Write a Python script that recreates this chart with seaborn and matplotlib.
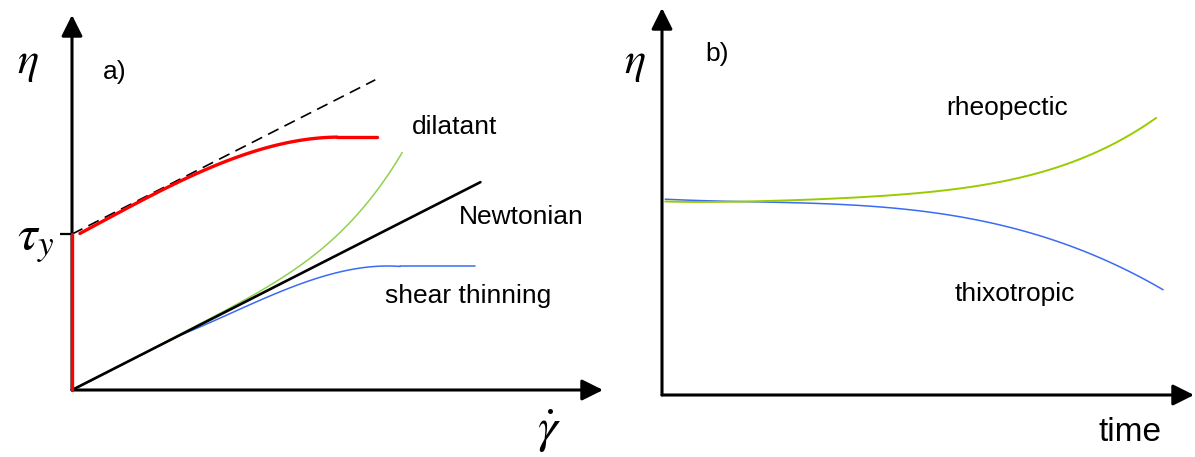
import matplotlib
matplotlib.use("Agg")
import matplotlib.pyplot as plt
import seaborn as sns
import pandas as pd
from matplotlib.patches import ArrowStyle

# ---------------- data: (a) viscosity vs shear rate ----------------
tau_y = 2.91

# Bingham-type branch above the yield stress, then its flat plateau
bingham_x = [0.15, 0.59, 1.23, 1.86, 2.48, 3.13, 3.75, 4.38, 5.02]
bingham_y = [2.91, 3.18, 3.48, 3.80, 4.10, 4.35, 4.54, 4.67, 4.72]
bingham_flat_x = [5.02, 5.78]
bingham_flat_y = [4.72, 4.72]

asymptote_x = [0, 5.74]
asymptote_y = [2.91, 5.79]

newtonian_x = [0, 7.73]
newtonian_y = [0, 3.88]

dilatant_x = [0, 1.04, 2.08, 2.61, 3.37, 3.79, 4.51, 4.94, 5.27, 5.59, 5.89, 6.25]
dilatant_y = [0, 0.52, 1.05, 1.34, 1.72, 2.00, 2.48, 2.80, 3.12, 3.49, 3.92, 4.42]

# shear thinning: linear start, bending section, plateau
thinning_lin_x = [0, 2.08]
thinning_lin_y = [0, 1.04]
thinning_x = [2.08, 2.75, 3.37, 3.79, 4.32, 4.94, 5.27, 5.89, 6.21]
thinning_y = [1.04, 1.31, 1.61, 1.75, 2.00, 2.17, 2.24, 2.31, 2.31]
thinning_flat_x = [6.21, 7.63]
thinning_flat_y = [2.31, 2.31]

# ---------------- data: (b) viscosity vs time ----------------
time_pts = [0.06, 1.84, 3.10, 4.33, 5.59, 6.53, 7.47, 8.41, 9.27]
rheopectic = [3.50, 3.51, 3.54, 3.62, 3.74, 3.89, 4.13, 4.52, 5.01]

time_pts_b = [0.06, 1.84, 3.10, 4.33, 5.59, 6.53, 7.47, 8.41, 9.40]
thixotropic = [3.54, 3.50, 3.45, 3.38, 3.22, 3.04, 2.77, 2.38, 1.91]

RED = "#FF0000"
GREEN_A = "#92D050"
GREEN_B = "#99CC00"
BLUE = "#3A6BF5"

sns.set_theme(style="white")
plt.rcParams["font.family"] = ["Liberation Sans", "DejaVu Sans"]
plt.rcParams["mathtext.fontset"] = "stix"
plt.rcParams["text.color"] = "black"
plt.rcParams["ytick.color"] = "black"
plt.rcParams["ytick.labelcolor"] = "black"

W, H = 1195, 457
fig = plt.figure(figsize=(W / 100, H / 100), dpi=100)

ax_a = fig.add_axes([72 / W, (H - 390) / H, 531 / W, 375 / H])
ax_b = fig.add_axes([662 / W, (H - 395) / H, 532 / W, 387 / H])
ax_a.set_xlim(0, 10.05)
ax_a.set_ylim(0, 7)
ax_b.set_xlim(0, 9.98)
ax_b.set_ylim(0, 7)

arrow = ArrowStyle("-|>", head_length=0.8, head_width=0.4)
for ax in (ax_a, ax_b):
    for s in ax.spines.values():
        s.set_visible(False)
    ax.set_facecolor("none")
    ax.set_xticks([])
    for end in [(1, 0), (0, 1)]:
        ax.annotate("", xy=end, xytext=(0, 0), xycoords="axes fraction",
                    textcoords="axes fraction", annotation_clip=False,
                    arrowprops=dict(arrowstyle=arrow, lw=2.2, color="black",
                                    mutation_scale=16, shrinkA=0, shrinkB=0),
                    zorder=1)


def straight(ax, x, y, color, lw, **kw):
    df = pd.DataFrame({"x": x, "y": y})
    sns.lineplot(data=df, x="x", y="y", ax=ax, color=color, lw=lw,
                 sort=False, estimator=None, clip_on=False, **kw)


def smooth(ax, x, y, color, lw, order, zorder=3):
    sns.regplot(x=x, y=y, ax=ax, order=order, ci=None, scatter=False,
                truncate=True, line_kws=dict(color=color, lw=lw,
                                             zorder=zorder,
                                             solid_capstyle="round"))


# panel (a)
straight(ax_a, asymptote_x, asymptote_y, "black", 1.2, dashes=(7, 4), zorder=3)
straight(ax_a, newtonian_x, newtonian_y, "black", 1.9, zorder=4)
smooth(ax_a, dilatant_x, dilatant_y, GREEN_A, 1.1, order=4)
straight(ax_a, thinning_lin_x, thinning_lin_y, BLUE, 1.1, zorder=3,
         solid_capstyle="round")
smooth(ax_a, thinning_x, thinning_y, BLUE, 1.1, order=3)
straight(ax_a, thinning_flat_x, thinning_flat_y, BLUE, 1.1, zorder=3,
         solid_capstyle="round")
straight(ax_a, [0, 0], [0, tau_y], RED, 2.4, zorder=5)
smooth(ax_a, bingham_x, bingham_y, RED, 2.4, order=3, zorder=5)
straight(ax_a, bingham_flat_x, bingham_flat_y, RED, 2.4, zorder=5,
         solid_capstyle="round")
ax_a.set_xlabel("")
ax_a.set_ylabel("")

ax_a.set_yticks([tau_y])
ax_a.set_yticklabels([r"$\tau_y$"])
ax_a.tick_params(axis="y", length=9, width=1.6, color="black",
                 labelsize=36, pad=4, left=True)

fs = 19
ax_a.text(0.81, 5.94, "a)", fontsize=fs, ha="center", va="center")
ax_a.text(7.25, 4.91, "dilatant", fontsize=fs, ha="center", va="center")
ax_a.text(8.50, 3.23, "Newtonian", fontsize=fs, ha="center", va="center")
ax_a.text(7.50, 1.75, "shear thinning", fontsize=fs, ha="center", va="center")
ax_a.text(-0.83, 6.09, r"$\eta$", fontsize=32, ha="center", va="center",
          clip_on=False)
ax_a.text(9.03, -0.78, r"$\dot{\gamma}$", fontsize=36, ha="center",
          va="center", clip_on=False)

# panel (b)
ax_b.set_yticks([])
smooth(ax_b, time_pts_b, thixotropic, BLUE, 1.1, order=4, zorder=3)
smooth(ax_b, time_pts, rheopectic, GREEN_B, 1.4, order=4, zorder=4)
ax_b.set_xlabel("")
ax_b.set_ylabel("")

ax_b.text(1.03, 6.17, "b)", fontsize=fs, ha="center", va="center")
ax_b.text(6.47, 5.19, "rheopectic", fontsize=fs, ha="center", va="center")
ax_b.text(6.62, 1.83, "thixotropic", fontsize=fs, ha="center", va="center")
ax_b.text(8.78, -0.67, "time", fontsize=24, ha="center", va="center",
          clip_on=False)
ax_b.text(-0.51, 5.99, r"$\eta$", fontsize=32, ha="center", va="center",
          clip_on=False)

fig.savefig("out.png", dpi=100, facecolor="white")
